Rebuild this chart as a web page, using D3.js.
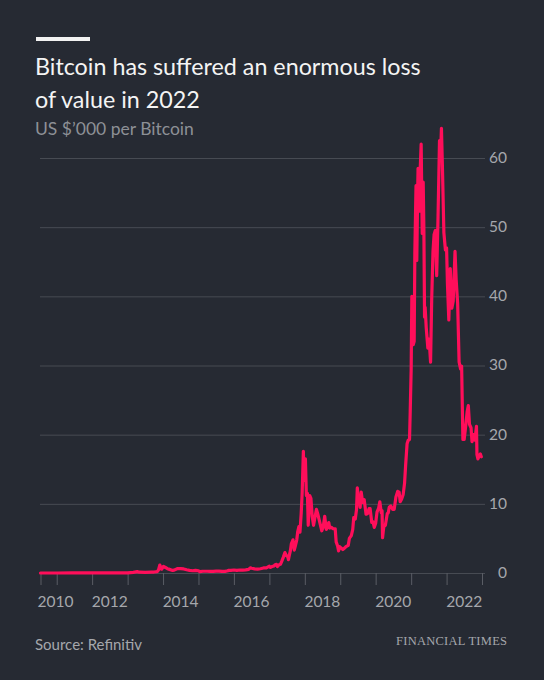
<!DOCTYPE html>
<html>
<head>
<meta charset="utf-8">
<script src="https://cdn.jsdelivr.net/npm/d3@7"></script>
<style>
  html, body { margin: 0; padding: 0; background: #262a33; }
  svg { display: block; }
  text { font-family: Lato, "Noto Sans", sans-serif; }
  text.brand { font-family: "Liberation Serif", "DejaVu Serif", serif; }
</style>
</head>
<body>
<div id="container"></div>
<script>
/* CONSTANTS AND GLOBALS */
const width = 544;
const height = 680;
const margin = { top: 158, right: 62, bottom: 107, left: 40 };

/* DATA - US $'000 per Bitcoin */
const dates = [
  "2010-07-18","2010-10-01","2011-01-01","2011-06-08","2011-09-01","2012-01-01","2012-06-01","2012-09-01",
  "2013-01-01","2013-03-01","2013-04-10","2013-05-01","2013-07-01","2013-09-01","2013-10-01","2013-11-01",
  "2013-11-15","2013-11-29","2013-12-06","2013-12-18","2014-01-05","2014-01-25","2014-02-15","2014-03-01",
  "2014-04-10","2014-05-01","2014-06-01","2014-07-01","2014-08-01","2014-09-01","2014-10-01","2014-11-01",
  "2014-12-01","2015-01-01","2015-01-15","2015-02-15","2015-04-01","2015-05-01","2015-06-01","2015-07-01",
  "2015-08-01","2015-09-01","2015-10-01","2015-11-01","2015-11-05","2015-12-01","2016-01-01","2016-02-01",
  "2016-03-01","2016-04-01","2016-05-01","2016-06-01","2016-06-18","2016-07-01","2016-08-01","2016-09-01",
  "2016-10-01","2016-11-01","2016-12-01",
  "2017-01-01","2017-01-12","2017-02-01","2017-02-15","2017-03-01","2017-03-15","2017-03-25","2017-04-10",
  "2017-04-25","2017-05-10","2017-05-25","2017-06-10","2017-06-25","2017-07-10","2017-07-16","2017-07-25",
  "2017-08-05","2017-08-15","2017-09-01","2017-09-14","2017-09-25","2017-10-10","2017-10-20","2017-11-01",
  "2017-11-12","2017-11-25","2017-12-05","2017-12-17","2017-12-22",
  "2018-01-01","2018-01-07","2018-01-17","2018-01-28","2018-02-05","2018-02-20","2018-03-05","2018-03-18",
  "2018-04-01","2018-04-15","2018-05-01","2018-05-15","2018-06-01","2018-06-25","2018-07-10","2018-07-25",
  "2018-08-10","2018-08-25","2018-09-05","2018-09-15","2018-10-01","2018-10-20","2018-11-10","2018-11-20",
  "2018-12-05","2018-12-15","2018-12-28",
  "2019-01-10","2019-01-28","2019-02-15","2019-03-01","2019-03-25","2019-04-05","2019-04-25","2019-05-10",
  "2019-05-20","2019-06-05","2019-06-18","2019-06-26","2019-07-05","2019-07-15","2019-07-25","2019-08-05",
  "2019-08-20","2019-09-05","2019-09-24","2019-10-10","2019-10-25","2019-11-05","2019-11-22","2019-12-05",
  "2019-12-18",
  "2020-01-01","2020-01-15","2020-02-01","2020-02-13","2020-02-28","2020-03-07","2020-03-12","2020-03-25",
  "2020-04-10","2020-04-30","2020-05-10","2020-05-20","2020-06-05","2020-06-25","2020-07-10","2020-07-28",
  "2020-08-15","2020-08-30","2020-09-10","2020-09-25","2020-10-10","2020-10-25","2020-11-05","2020-11-20",
  "2020-12-01","2020-12-15","2020-12-22",
  "2021-01-01","2021-01-08","2021-01-15","2021-01-22","2021-02-01","2021-02-08","2021-02-20","2021-02-28",
  "2021-03-10","2021-03-13","2021-03-25","2021-04-05","2021-04-14","2021-04-25","2021-05-05","2021-05-12",
  "2021-05-19","2021-05-25","2021-06-05","2021-06-22","2021-07-05","2021-07-20","2021-08-01","2021-08-14",
  "2021-08-25","2021-09-06","2021-09-21","2021-10-05","2021-10-20","2021-11-01","2021-11-09","2021-11-20",
  "2021-12-04","2021-12-20",
  "2022-01-01","2022-01-10","2022-01-24","2022-02-08","2022-02-24","2022-03-10","2022-03-29","2022-04-10",
  "2022-04-25","2022-05-10","2022-05-25","2022-06-05","2022-06-18","2022-07-01","2022-07-15","2022-08-01",
  "2022-08-13","2022-08-25","2022-09-10","2022-09-20","2022-10-05","2022-10-20","2022-11-05","2022-11-10",
  "2022-11-20","2022-12-05","2022-12-15","2022-12-25"
];
const prices = [
  0.00005,0.0001,0.0003,0.017,0.005,0.006,0.007,0.012,
  0.014,0.09,0.2,0.12,0.09,0.13,0.14,0.2,
  0.43,1.15,0.9,0.55,0.95,0.8,0.62,0.56,
  0.37,0.45,0.64,0.64,0.59,0.47,0.38,0.33,
  0.38,0.32,0.2,0.25,0.25,0.23,0.23,0.26,
  0.28,0.23,0.24,0.32,0.4,0.37,0.43,0.37,
  0.43,0.42,0.45,0.53,0.75,0.68,0.6,0.57,
  0.61,0.73,0.75,
  0.99,0.8,0.97,1.0,1.19,1.25,0.94,1.2,
  1.26,1.75,2.3,2.95,2.5,2.35,1.93,2.55,
  3.2,4.2,4.8,3.3,3.9,4.8,6.0,6.7,
  5.9,8.7,11.7,17.6,14.0,
  13.4,16.5,11.2,11.5,6.9,11.2,10.8,8.2,
  6.9,8.0,9.2,8.5,7.5,6.1,6.7,8.2,
  6.3,6.7,7.3,6.5,6.6,6.4,6.4,4.5,
  3.9,3.2,3.8,
  3.6,3.4,3.6,3.8,4.0,5.0,5.4,6.3,
  8.0,7.8,9.2,12.3,10.9,10.8,9.5,11.7,
  10.2,10.6,8.5,8.6,9.3,9.3,7.3,7.4,
  6.6,
  7.2,8.8,9.4,10.3,8.7,9.0,5.1,6.7,
  6.9,8.6,8.7,9.5,9.7,9.2,9.2,11.0,
  11.8,11.7,10.3,10.7,11.3,13.0,15.6,18.7,
  19.2,19.3,23.2,
  29.4,40.0,36.8,33.0,33.5,46.4,56.0,45.2,
  55.9,58.5,52.3,58.7,62.0,49.1,56.5,49.7,
  37.0,38.4,35.5,32.5,33.8,30.5,39.9,46.5,
  48.9,49.5,43.0,51.5,62.5,61.0,64.3,58.2,
  49.2,46.7,
  47.0,41.8,36.6,44.0,38.3,39.3,46.5,42.3,
  39.0,30.5,29.5,29.9,19.3,19.3,21.0,23.3,
  24.2,21.5,21.0,19.0,20.0,19.2,21.2,17.1,
  16.5,17.0,17.2,16.8
];
const yTicks = [0, 10, 20, 30, 40, 50, 60];
const yearLabels = [2010, 2012, 2014, 2016, 2018, 2020, 2022];
const tickYears = [2011, 2012, 2013, 2014, 2015, 2016, 2017, 2018, 2019, 2020, 2021, 2022, 2023];

const title = ["Bitcoin has suffered an enormous loss", "of value in 2022"];
const subtitle = "US $\u2019000 per Bitcoin";
const source = "Source: Refinitiv";
const brand = "FINANCIAL TIMES";

const parse = d3.timeParse("%Y-%m-%d");
const data = dates.map((d, i) => ({ date: parse(d), value: prices[i] }));

/* SCALES */
const xScale = d3.scaleTime()
  .domain([data[0].date, new Date(2023, 0, 1)])
  .range([margin.left + 0.5, width - margin.right])

const yScale = d3.scaleLinear()
  .domain([0, 60])
  .range([height - margin.bottom, margin.top])

/* HTML ELEMENTS */
const svg = d3.select("#container")
  .append("svg")
  .attr("width", width)
  .attr("height", height)

svg.append("rect")
  .attr("width", width)
  .attr("height", height)
  .attr("fill", "#262a33")

// header
svg.append("rect")
  .attr("x", 36).attr("y", 37)
  .attr("width", 54).attr("height", 4)
  .attr("fill", "#f2f2f2")

svg.selectAll("text.title")
  .data(title)
  .join("text")
  .attr("class", "title")
  .attr("x", 35)
  .attr("y", (d, i) => 75 + i * 33)
  .attr("fill", "#f4f4f4")
  .attr("font-size", 23.3)
  .text(d => d)

svg.append("text")
  .attr("x", 35).attr("y", 135)
  .attr("fill", "#8d9096")
  .attr("font-size", 17.5)
  .text(subtitle)

// gridlines + y labels
const yAxis = d3.axisRight(yScale)
  .tickValues(yTicks)
  .tickSize(width - margin.right - margin.left + 3)
  .tickFormat(d3.format("d"))

svg.append("g")
  .attr("transform", `translate(${margin.left},0)`)
  .call(yAxis)
  .call(g => g.select(".domain").remove())
  .call(g => g.selectAll(".tick line").attr("stroke", "#474b53").attr("stroke-width", 1))
  .call(g => g.selectAll(".tick text")
    .attr("x", width - margin.left - 37)
    .attr("dy", "0.28em")
    .attr("text-anchor", "end")
    .attr("fill", "#a5a7ac")
    .attr("font-size", 15.5))

// x ticks
const xTickDates = [data[0].date].concat(tickYears.map(y => new Date(y, 0, 1)));
const xAxis = d3.axisBottom(xScale)
  .tickValues(xTickDates)
  .tickSize(12)
  .tickFormat("")

svg.append("g")
  .attr("transform", `translate(0,${yScale(0)})`)
  .call(xAxis)
  .call(g => g.select(".domain").remove())
  .call(g => g.selectAll(".tick line").attr("stroke", "#5a5d65"))

svg.selectAll("text.year")
  .data(yearLabels)
  .join("text")
  .attr("class", "year")
  .attr("x", d => d === 2010 ? xScale(data[0].date) - 3 : xScale(new Date(d, 6, 1)))
  .attr("y", 607)
  .attr("text-anchor", d => d === 2010 ? "start" : "middle")
  .attr("fill", "#a5a7ac")
  .attr("font-size", 15.5)
  .text(d => d)

// line
const line = d3.line()
  .x(d => xScale(d.date))
  .y(d => yScale(d.value))

svg.append("path")
  .datum(data)
  .attr("d", line)
  .attr("fill", "none")
  .attr("stroke", "#ff0e5a")
  .attr("stroke-width", 3.2)
  .attr("stroke-linejoin", "round")
  .attr("stroke-linecap", "round")

// footer
svg.append("text")
  .attr("x", 35).attr("y", 650)
  .attr("fill", "#a5a7ac")
  .attr("font-size", 15)
  .text(source)

svg.append("text")
  .attr("class", "brand")
  .attr("x", 507).attr("y", 645)
  .attr("text-anchor", "end")
  .attr("fill", "#a5a7ac")
  .attr("font-size", 12.5)
  .attr("textLength", 111)
  .text(brand)
</script>
</body>
</html>
